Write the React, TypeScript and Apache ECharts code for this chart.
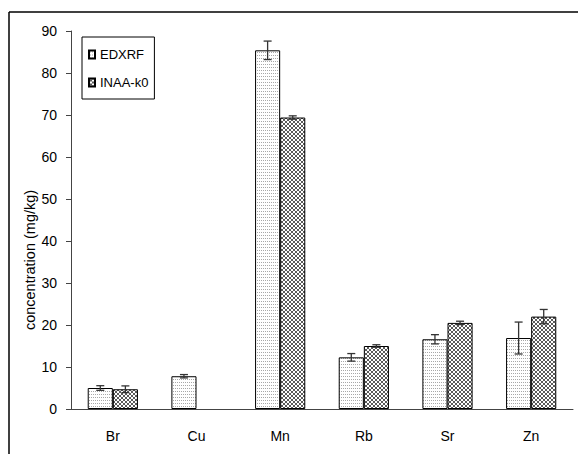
import React, { useEffect, useRef } from "react";
import * as echarts from "echarts";

const categories = ["Br", "Cu", "Mn", "Rb", "Sr", "Zn"];
const edxrf = [5.0, 7.8, 85.4, 12.3, 16.6, 16.9];
const edxrfErr = [0.55, 0.4, 2.2, 0.9, 1.1, 3.8];
const inaa: (number | null)[] = [4.7, null, 69.4, 15.0, 20.5, 22.0];
const inaaErr: (number | null)[] = [0.8, null, 0.4, 0.3, 0.4, 1.7];
const yTicks = { min: 0, max: 90, interval: 10 };

const FONT = "'Liberation Sans', Arial, sans-serif";

function makePattern(kind: "dots" | "cross") {
  const c = document.createElement("canvas");
  const ctx = c.getContext("2d")!;
  if (kind === "dots") {
    c.width = 2;
    c.height = 3;
    ctx.fillStyle = "#ffffff";
    ctx.fillRect(0, 0, 2, 3);
    ctx.fillStyle = "#a8a8a8";
    ctx.fillRect(1, 1, 1, 1);
  } else {
    c.width = 4;
    c.height = 4;
    ctx.fillStyle = "#ffffff";
    ctx.fillRect(0, 0, 4, 4);
    ctx.fillStyle = "#5a5a5a";
    for (let i = 0; i < 4; i++) {
      ctx.fillRect(i, i, 1, 1);
      ctx.fillRect(3 - i, i, 1, 1);
    }
  }
  return { image: c, repeat: "repeat" } as any;
}

function errSeries(vals: (number | null)[], errs: (number | null)[], side: number) {
  const data = vals
    .map((v, i) => (v == null ? null : [i, v, errs[i] ?? 0]))
    .filter((d) => d != null);
  return {
    type: "custom",
    silent: true,
    z: 10,
    data,
    renderItem: (params: any, api: any) => {
      const idx = api.value(0);
      const v = api.value(1);
      const e = api.value(2);
      const band = api.size([1, 0])[0];
      const c = api.coord([idx, v]);
      const cx = c[0] + side * band * 0.15;
      const yt = api.coord([idx, v + e])[1];
      const yb = api.coord([idx, v - e])[1];
      const hw = 4;
      const st = { stroke: "#333", lineWidth: 1.3 };
      return {
        type: "group",
        children: [
          { type: "line", shape: { x1: cx, y1: yt, x2: cx, y2: yb }, style: st },
          { type: "line", shape: { x1: cx - hw, y1: yt, x2: cx + hw, y2: yt }, style: st },
          { type: "line", shape: { x1: cx - hw, y1: yb, x2: cx + hw, y2: yb }, style: st },
        ],
      };
    },
  };
}

export default function App() {
  const ref = useRef<HTMLDivElement>(null);
  useEffect(() => {
    const chart = echarts.init(ref.current!, null, { renderer: "svg" });
    const dots = makePattern("dots");
    const cross = makePattern("cross");
    chart.setOption({
      animation: false,
      backgroundColor: "#ffffff",
      grid: { left: 71, right: 5, top: 31, bottom: 45 },
      legend: {
        orient: "vertical",
        left: 82,
        top: 37,
        padding: [11, 6, 10, 6],
        itemGap: 15,
        itemWidth: 6,
        itemHeight: 8,
        icon: "rect",
        borderColor: "#000",
        borderWidth: 1,
        textStyle: { fontFamily: FONT, fontSize: 13, color: "#000" },
        data: ["EDXRF", "INAA-k0"],
      },
      xAxis: {
        type: "category",
        data: categories,
        axisLine: { lineStyle: { color: "#444", width: 1 } },
        axisTick: { length: 5, lineStyle: { color: "#444" } },
        axisLabel: { fontFamily: FONT, fontSize: 14, color: "#000", margin: 20 },
      },
      yAxis: {
        type: "value",
        min: yTicks.min,
        max: yTicks.max,
        interval: yTicks.interval,
        splitLine: { show: false },
        axisLine: { show: true, lineStyle: { color: "#444", width: 1 } },
        axisTick: { show: true, length: 5, lineStyle: { color: "#444" } },
        axisLabel: { fontFamily: FONT, fontSize: 14, color: "#000", margin: 14 },
      },
      graphic: [
        { type: "line", shape: { x1: 9, y1: 12, x2: 578, y2: 12 }, style: { stroke: "#000", lineWidth: 1.5 } },
        { type: "line", shape: { x1: 9, y1: 12, x2: 9, y2: 454 }, style: { stroke: "#000", lineWidth: 1.5 } },
        {
          type: "text",
          x: 30,
          y: 260,
          rotation: Math.PI / 2,
          style: {
            text: "concentration (mg/kg)",
            fontFamily: FONT,
            fontSize: 14.5,
            fill: "#000",
            align: "center",
            verticalAlign: "middle",
          },
        },
      ],
      series: [
        {
          name: "EDXRF",
          type: "bar",
          data: edxrf,
          barWidth: "30%",
          barGap: "0%",
          itemStyle: { color: dots, borderColor: "#000", borderWidth: 1 },
        },
        {
          name: "INAA-k0",
          type: "bar",
          data: inaa,
          barWidth: "30%",
          barGap: "0%",
          itemStyle: { color: cross, borderColor: "#000", borderWidth: 1 },
        },
        errSeries(edxrf, edxrfErr, -1),
        errSeries(inaa, inaaErr, 1),
      ],
    });
    return () => chart.dispose();
  }, []);
  return <div ref={ref} style={{ width: 578, height: 454, position: "absolute", left: 0, top: 0 }} />;
}
